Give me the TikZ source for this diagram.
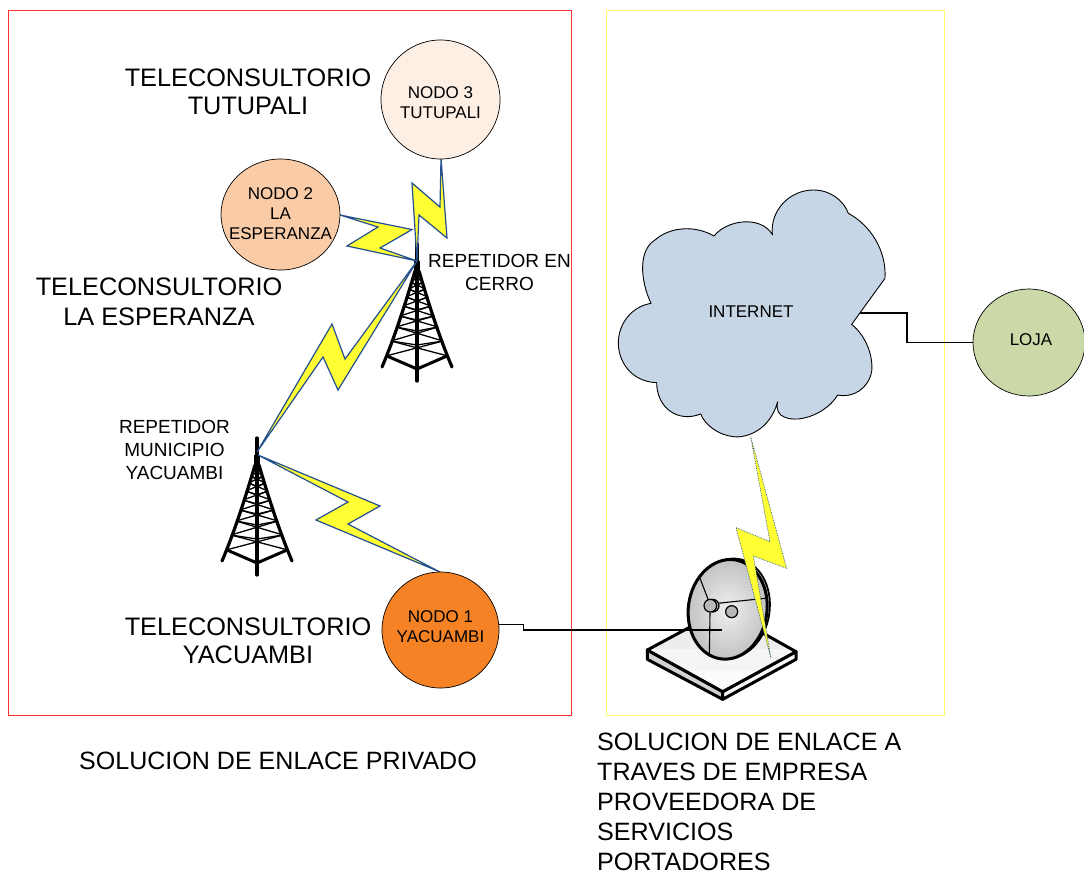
\documentclass[tikz,border=0pt]{standalone}
\usepackage{fontspec}
\setmainfont{Liberation Sans}
\usetikzlibrary{shapes.geometric}
\definecolor{boltedge}{HTML}{24508F}
\definecolor{boltfill}{HTML}{FFFF33}
\definecolor{cloudfill}{HTML}{C7D6E6}
\definecolor{nodoa}{HTML}{F58224}
\definecolor{nodob}{HTML}{F9CBA6}
\definecolor{nodoc}{HTML}{FDEFE4}
\definecolor{lojafill}{HTML}{CBD9A8}
\definecolor{redbox}{HTML}{FF3333}
\definecolor{yellowbox}{HTML}{FFFF66}
\tikzset{
  site/.style={draw=black,line width=0.7pt,ellipse,inner sep=0pt},
  bigtext/.style={font=\fontsize{25.3}{28}\selectfont,align=center,inner sep=0pt,text=black},
  captext/.style={font=\fontsize{25.1}{30}\selectfont,align=left,inner sep=0pt,text=black},
  midtext/.style={font=\fontsize{19}{23}\selectfont,align=center,inner sep=0pt,text=black},
  smalltext/.style={font=\fontsize{17}{20}\selectfont,align=center,inner sep=0pt,text=black},
  bolt/.style={draw=boltedge,line width=1.2pt,fill=boltfill,line join=miter},
  dotbolt/.style={draw=boltedge,line width=0.7pt,densely dotted,fill=boltfill},
  wire/.style={draw=black,line width=1.1pt},
  radiotower/.pic={
    \foreach \ya/\wa/\yb/\wb in {113/31/98/26,98/26/84/21,84/21/73/17,73/17/63/14,63/14/54/11,54/11/46/8,46/8/39/5.7,39/5.7/32/3.5}{
      \draw[line width=1.3pt] (-\wb,\yb) -- (0,\yb+4) -- (\wb,\yb);
      \draw[line width=1.3pt] (-\wa,\ya) -- (\wb,\yb);
      \draw[line width=1.3pt] (\wa,\ya) -- (-\wb,\yb);
    }
    \draw[line width=3.2pt,line cap=round] (-2,28) .. controls (-12,62) and (-23,96) .. (-35,124);
    \draw[line width=3.2pt,line cap=round] (2,28) .. controls (12,62) and (23,96) .. (35,124);
    \draw[line width=3pt,line join=round] (-30,113) -- (0,126) -- (30,113);
    \draw[line width=3.2pt,line cap=round] (0,1) -- (0,138);
    \draw[line width=6.5pt] (0,18) -- (0,34);
  }
}
\begin{document}
\begin{tikzpicture}[x=1pt,y=-1pt]
\useasboundingbox (0,0) rectangle (1084,875);
% zones
\draw[redbox,line width=1pt] (8,11) rectangle (571,715);
\draw[yellowbox,line width=1pt] (606,11) rectangle (944,715);
% towers
\pic at (417,243) {radiotower};
\pic at (257,437) {radiotower};
\coordinate (cerrotip) at (417,261);
\coordinate (munitip) at (257,452);
\coordinate (munitipb) at (258,455);
\coordinate (tresend) at (441,158);
\coordinate (dosend) at (340,215);
\coordinate (unoend) at (440,572);
% bolts
\filldraw[bolt] (tresend) -- (440,207) -- (412,183) -- (cerrotip) -- (419,215) -- (447,238) -- cycle;
\filldraw[bolt] (dosend) -- (412,229.5) -- (380,248) -- (cerrotip) -- (347,246) -- (378,227) -- cycle;
\filldraw[bolt] (munitip) -- (332,324) -- (345,359) -- (cerrotip) -- (338,390) -- (323,357) -- cycle;
\filldraw[bolt] (munitipb) -- (380,506) -- (348,524) -- (unoend) -- (316,520) -- (348,502) -- cycle;
% sites
\node[site,fill=nodoc,minimum width=119pt,minimum height=119pt] (nodo3) at (440.5,99.5) {};
\node[site,fill=nodob,minimum width=119pt,minimum height=111pt] (nodo2) at (280.5,214.5) {};
\node[site,fill=nodoa,minimum width=117pt,minimum height=116pt] (nodo1) at (440.5,630) {};
\node[site,fill=lojafill,minimum width=112pt,minimum height=107pt] (loja) at (1029,342.5) {};
\node[smalltext] (t3) at (440.5,102.5) {NODO 3\\TUTUPALI};
\node[smalltext] (t2) at (280.5,213.5) {NODO 2\\LA\\ESPERANZA};
\node[smalltext] (t1) at (440.5,626.5) {NODO 1\\YACUAMBI};
\node[smalltext] (tl) at (1031,340) {LOJA};
% cloud
\begin{scope}[shift={(610,180)},scale=1/3]
\filldraw[fill=cloudfill,draw=black,line width=0.9pt]
 (123,370) .. controls (90,300) and (85,210) .. (135,180)
 .. controls (180,140) and (255,135) .. (312,168)
 .. controls (350,120) and (450,105) .. (487,163)
 .. controls (480,90) and (540,30) .. (610,30)
 .. controls (660,30) and (700,60) .. (715,100)
 .. controls (780,135) and (830,210) .. (825,295)
 -- (725,433)
 .. controls (770,470) and (790,530) .. (785,575)
 .. controls (775,625) and (730,655) .. (683,645)
 .. controls (650,700) and (570,730) .. (525,712)
 .. controls (505,705) and (498,690) .. (503,665)
 .. controls (480,750) and (410,775) .. (370,770)
 .. controls (325,765) and (285,735) .. (272,702)
 .. controls (200,730) and (140,680) .. (140,608)
 .. controls (60,605) and (25,540) .. (25,490)
 .. controls (25,430) and (65,380) .. (123,370) -- cycle;
\end{scope}
\node[smalltext] (inet) at (751,312) {INTERNET};
\coordinate (cloudport) at (860,313);
\draw[wire] (cloudport) -- (907,313) |- (loja.west);
% dish
\begin{scope}[shift={(630,430)},scale=1/3]
\filldraw[draw=black,line width=3pt,line join=round,fill=gray!35] (52,660) -- (278,785) -- (278,808) -- (52,688) -- cycle;
\filldraw[draw=black,line width=3pt,line join=round,fill=gray!6] (498,665) -- (278,785) -- (278,808) -- (498,688) -- cycle;
\begin{scope}
\clip (52,660) -- (275,540) -- (498,665) -- (278,785) -- cycle;
\fill[gray!14] (0,500) rectangle (550,658);
\fill[gray!8] (0,658) rectangle (550,722);
\fill[white!97!gray] (0,722) rectangle (550,800);
\end{scope}
\draw[draw=black,line width=3pt,line join=round] (52,660) -- (275,540) -- (498,665) -- (278,785) -- cycle;
\draw[black,line width=1.8pt,fill=gray!20,rotate around={-8:(303,535)}] (303,535) ellipse [x radius=116,y radius=150];
\draw[black,line width=3pt,inner color=gray!12,outer color=gray!50,rotate around={-8:(293,538)}] (293,538) ellipse [x radius=118,y radius=150];
\draw[line width=1.1pt] (210,445) -- (235,510);
\draw[line width=1.1pt] (262,520) -- (405,505);
\draw[line width=1.1pt] (240,548) -- (238,680);
\draw[line width=1.2pt,fill=gray!55] (248,527) circle [radius=19];
\draw[line width=1.2pt,fill=gray!55] (241,527) circle [radius=19];
\draw[line width=1.2pt,fill=gray!55] (305,545) circle [radius=18];
\coordinate (dishport) at (275,600);
\coordinate (dishtop) at (470,415);
\coordinate (cloudtip) at (362,20);
\filldraw[dotbolt] (cloudtip) -- (dishtop) -- (370,378) -- (423,685) -- (318,293) -- (420,335) -- cycle;
\end{scope}
\draw[wire] (nodo1.5) -- ++(24,0) |- (dishport);
% labels
\node[bigtext] (lt3) at (248,92) {TELECONSULTORIO\\TUTUPALI};
\node[bigtext] (lt2) at (159,301.5) {TELECONSULTORIO\\[2pt]LA ESPERANZA};
\node[bigtext] (lt1) at (248,641) {TELECONSULTORIO\\YACUAMBI};
\node[midtext] (rc) at (499.5,272) {REPETIDOR EN\\CERRO};
\node[midtext] (rm) at (174.5,450) {REPETIDOR\\MUNICIPIO\\YACUAMBI};
\node[bigtext,font=\fontsize{25.05}{28}\selectfont] (sp) at (278,761) {SOLUCION DE ENLACE PRIVADO};
\node[captext,anchor=north west] (sa) at (597,732.5) {SOLUCION DE ENLACE A\\TRAVES DE EMPRESA\\PROVEEDORA DE\\SERVICIOS\\PORTADORES};
\end{tikzpicture}
\end{document}
